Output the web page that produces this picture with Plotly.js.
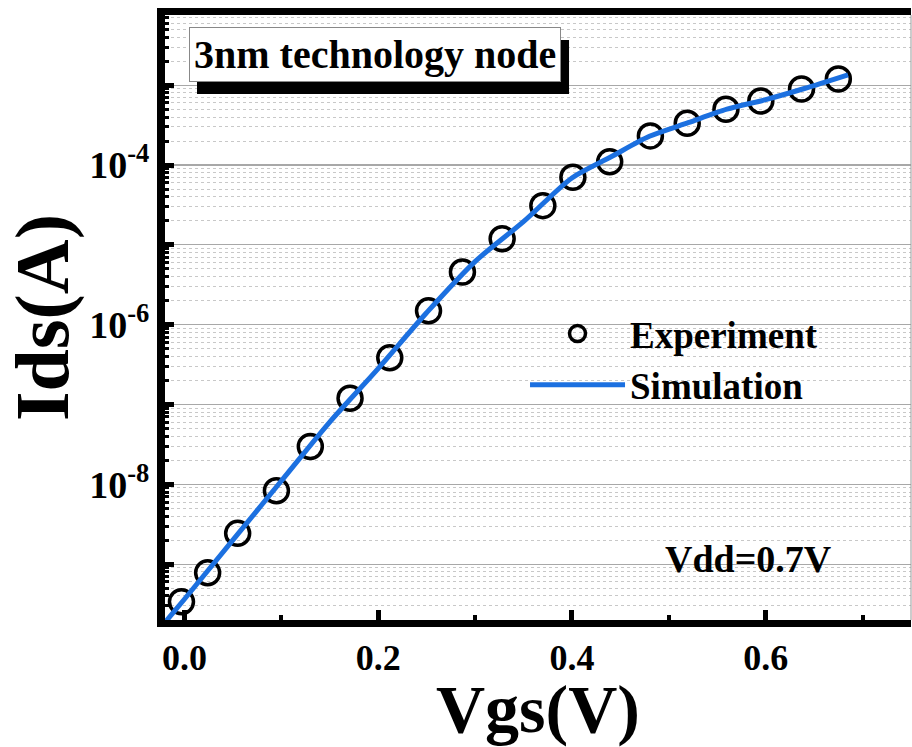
<!DOCTYPE html>
<html>
<head>
<meta charset="utf-8">
<script src="https://cdn.plot.ly/plotly-3.0.1.min.js"></script>
<style>html,body{margin:0;padding:0;background:#fff;}#chart{width:912px;height:747px;}</style>
</head>
<body>
<div id="chart"></div>
<script>
// Experiment points (Vgs in V, Ids in A)
const vgsExp = [-0.003, 0.024, 0.055, 0.095, 0.130, 0.171, 0.212, 0.252, 0.287, 0.328, 0.370, 0.401, 0.439, 0.481, 0.519, 0.559, 0.595, 0.637, 0.675];
const idsExp = [3.38e-10, 7.8e-10, 2.43e-9, 8.3e-9, 2.98e-8, 1.20e-7, 3.85e-7, 1.49e-6, 4.57e-6, 1.19e-5, 3.10e-5, 7.03e-5, 1.10e-4, 2.32e-4, 3.34e-4, 5.0e-4, 6.35e-4, 8.97e-4, 1.20e-3];
// Simulation curve
const vgsSim = [-0.02, 0.0, 0.05, 0.10, 0.15, 0.20, 0.25, 0.30, 0.35, 0.40, 0.44, 0.48, 0.52, 0.56, 0.60, 0.64, 0.685];
const idsSim = [1.86e-10, 3.63e-10, 2.0e-9, 1.10e-8, 6.03e-8, 2.82e-7, 1.41e-6, 6.17e-6, 1.95e-5, 6.9e-5, 1.26e-4, 2.29e-4, 3.39e-4, 5.01e-4, 6.6e-4, 9.1e-4, 1.35e-3];
// Tick labels
const xTickVals = [0, 0.2, 0.4, 0.6];
const xTickText = ['0.0', '0.2', '0.4', '0.6'];
const yTickVals = [1e-8, 1e-6, 1e-4];
const yTickText = ['10<sup>-8</sup>', '10<sup>-6</sup>', '10<sup>-4</sup>'];
const yOddDecades = [1e-9, 1e-7, 1e-5, 1e-3];
const seriesNames = ['Experiment', 'Simulation'];
const boxLabel = '3nm technology node';
const vddLabel = 'Vdd=0.7V';

const yMinor = [];
for (let k = -10; k <= -3; k++) for (let m = 2; m <= 9; m++) yMinor.push(m * Math.pow(10, k));

const FONT = 'Liberation Serif, Times New Roman, serif';
const Y_RANGE = [-9.70, -2.12];

const traces = [
  {
    x: vgsExp, y: idsExp, name: seriesNames[0], type: 'scatter', mode: 'markers',
    marker: {symbol: 'circle-open', size: 24, color: '#000', line: {width: 3.5, color: '#000'}}
  },
  {
    x: vgsSim, y: idsSim, name: seriesNames[1], type: 'scatter', mode: 'lines',
    line: {color: '#1c70e0', width: 5, shape: 'spline', smoothing: 0.8}
  }
];

const layout = {
  width: 912, height: 747,
  margin: {l: 165, r: 1, t: 15, b: 127},
  paper_bgcolor: '#fff', plot_bgcolor: '#fff',
  font: {family: FONT, color: '#000', weight: 700},
  showlegend: true,
  legend: {
    x: 0.4826, xanchor: 'left', y: 0.524, yanchor: 'top',
    bgcolor: 'rgba(0,0,0,0)', borderwidth: 0,
    font: {family: FONT, size: 37, weight: 700, color: '#000'},
    itemwidth: 95, tracegroupgap: 0
  },
  xaxis: {
    range: [-0.02, 0.75],
    tickmode: 'array', tickvals: xTickVals, ticktext: xTickText,
    ticks: 'inside', ticklen: 10, tickwidth: 5, tickcolor: '#000',
    minor: {tickmode: 'linear', tick0: 0, dtick: 0.1, ticks: 'inside', ticklen: 5, tickwidth: 4, tickcolor: '#000', showgrid: false},
    showline: true, linewidth: 7, linecolor: '#000', mirror: true,
    showgrid: false, zeroline: false,
    tickfont: {family: FONT, size: 36, weight: 700, color: '#000'},
    title: {text: 'Vgs(V)', font: {family: FONT, size: 68, weight: 700, color: '#000'}, standoff: 16}
  },
  yaxis: {
    type: 'log',
    range: Y_RANGE,
    tickmode: 'array', tickvals: yTickVals, ticktext: yTickText,
    ticks: 'inside', ticklen: 9, tickwidth: 5, tickcolor: '#000',
    minor: {tickmode: 'array', tickvals: yMinor, ticks: 'inside', ticklen: 4, tickwidth: 3, tickcolor: '#000',
            showgrid: true, gridcolor: '#c8c8c8', gridwidth: 1, griddash: 'dot'},
    showline: true, linewidth: 8, linecolor: '#000', mirror: false,
    showgrid: true, gridcolor: '#a8a8a8', gridwidth: 1.2,
    zeroline: false,
    tickfont: {family: FONT, size: 38, weight: 700, color: '#000'},
    title: {text: 'Ids(A)', font: {family: FONT, size: 76, weight: 700, color: '#000'}, standoff: 10}
  },
  yaxis2: {
    type: 'log', overlaying: 'y', side: 'left', range: Y_RANGE,
    tickmode: 'array', tickvals: yOddDecades, showticklabels: false,
    ticks: 'inside', ticklen: 9, tickwidth: 5, tickcolor: '#000',
    showline: false, showgrid: true, gridcolor: '#a8a8a8', gridwidth: 1.2, zeroline: false
  },
  shapes: [
    {type: 'line', xref: 'paper', yref: 'paper', x0: 1, x1: 1, y0: 0, y1: 1, line: {color: '#999', width: 1}},
    {type: 'rect', xref: 'paper', yref: 'paper', x0: 0.0429, x1: 0.5416, y0: 0.8694, y1: 0.9587,
     fillcolor: '#000', line: {width: 0}}
  ],
  annotations: [
    {xref: 'paper', yref: 'paper', x: 0.2815, y: 0.9355, xanchor: 'center', yanchor: 'middle',
     text: boxLabel, showarrow: false, bgcolor: '#fff', bordercolor: '#888', borderwidth: 1, borderpad: 4,
     font: {family: FONT, size: 40, weight: 700, color: '#000'}},
    {xref: 'paper', yref: 'paper', x: 0.7828, y: 0.1008, xanchor: 'center', yanchor: 'middle',
     text: vddLabel, showarrow: false,
     font: {family: FONT, size: 38, weight: 700, color: '#000'}}
  ]
};

// an invisible trace keeps the overlaying axis alive
traces.push({x: [0.3], y: [1e-6], yaxis: 'y2', type: 'scatter', mode: 'markers',
  marker: {opacity: 0}, showlegend: false, hoverinfo: 'skip'});

Plotly.newPlot('chart', traces, layout, {displayModeBar: false, staticPlot: true});
</script>
</body>
</html>
